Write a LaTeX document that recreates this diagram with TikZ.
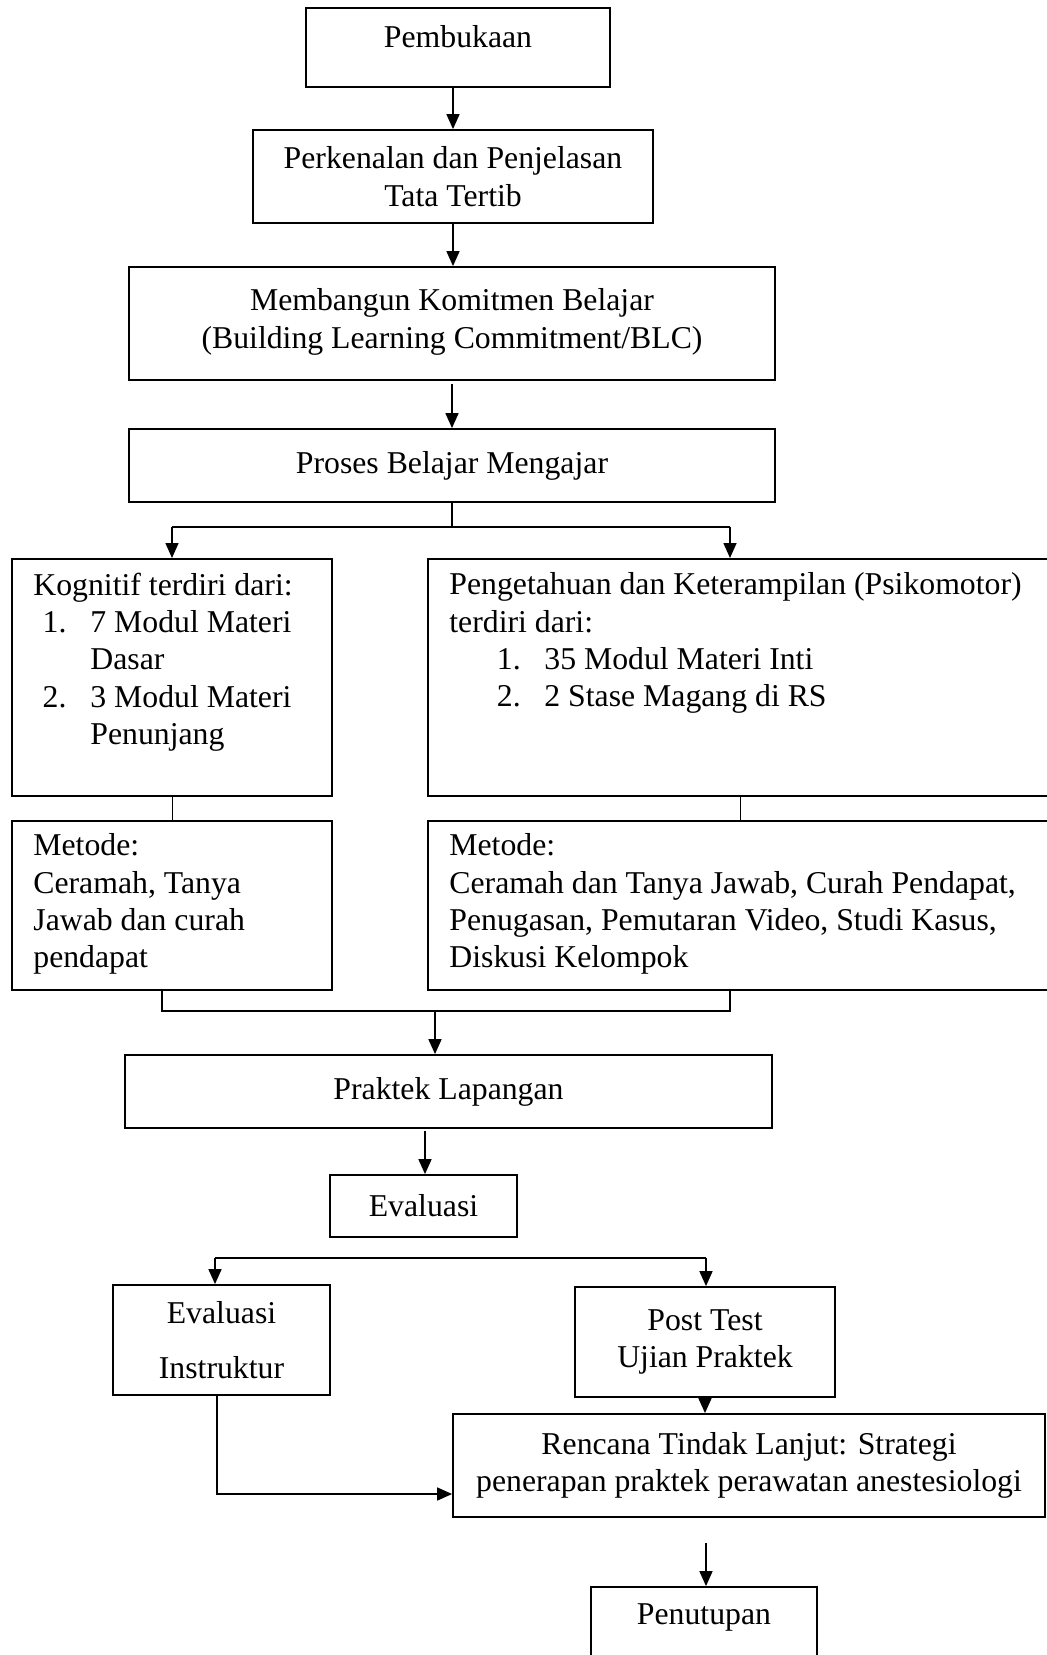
\documentclass[tikz,border=0pt]{standalone}
\usepackage{fontspec}
\setmainfont{Liberation Serif}
\usetikzlibrary{arrows.meta}
\newcommand{\fsz}{\fontsize{31.75}{37.3}\selectfont}
\tikzset{
  box/.style={draw, line width=1.8pt, align=center},
  lbox/.style={draw, line width=1.8pt, anchor=north west, inner xsep=21.5pt},
  arr/.style={-{Triangle[length=15pt,width=13pt]}, line width=1.6pt},
  lin/.style={line width=1.6pt}
}
\begin{document}
\begin{tikzpicture}[x=1pt, y=-1pt, font=\fsz]
          \clip (0,0) rectangle (1047,1655);

          \node[box, minimum width=304pt, minimum height=79pt, text depth=22pt] (open) at (458,47.5) {Pembukaan};
          \node[box, minimum width=400pt, minimum height=93pt] (intro) at (453,176.5) {Perkenalan dan Penjelasan\\Tata Tertib};
          \node[box, minimum width=646pt, minimum height=113pt] (blc) at (452,323.5) {Membangun Komitmen Belajar\\(Building Learning Commitment/BLC)\\[-27pt]\mbox{}};
          \node[box, minimum width=646pt, minimum height=73pt] (pbm) at (452,465.5) {Proses Belajar Mengajar};

          \node[lbox, inner ysep=14pt] (kog) at (11,558) {\begin{minipage}[t][209pt][t]{277pt}
            Kognitif terdiri dari:\\
            \hspace*{9.3pt}\makebox[47.7pt][l]{1.}7 Modul Materi\\
            \hspace*{57pt}Dasar\\
            \hspace*{9.3pt}\makebox[47.7pt][l]{2.}3 Modul Materi\\
            \hspace*{57pt}Penunjang
          \end{minipage}};
          \node[lbox, inner ysep=14pt] (psi) at (427,558) {\begin{minipage}[t][209pt][t]{590pt}
            Pengetahuan dan Keterampilan (Psikomotor)\\
            terdiri dari:\\
            \hspace*{47.5pt}\makebox[47.5pt][l]{1.}35 Modul Materi Inti\\
            \hspace*{47.5pt}\makebox[47.5pt][l]{2.}2 Stase Magang di RS
          \end{minipage}};

          \node[lbox, inner ysep=13pt] (metL) at (11,820) {\begin{minipage}[t][143pt][t]{277pt}
            Metode:\\
            Ceramah, Tanya\\
            Jawab dan curah\\
            pendapat
          \end{minipage}};
          \node[lbox, inner ysep=13pt] (metR) at (427,820) {\begin{minipage}[t][143pt][t]{590pt}
            Metode:\\
            Ceramah dan Tanya Jawab, Curah Pendapat,\\
            Penugasan, Pemutaran Video, Studi Kasus,\\
            Diskusi Kelompok
          \end{minipage}};

          \node[box, minimum width=647pt, minimum height=73pt] (prak) at (448.5,1091.5) {Praktek Lapangan};
          \node[box, minimum width=187pt, minimum height=62pt] (eval) at (423.5,1206) {Evaluasi};
          \node[box, minimum width=217pt, minimum height=110pt] (evi) at (221.5,1340) {Evaluasi\\[17.7pt]Instruktur};
          \node[box, minimum width=260pt, minimum height=110pt] (post) at (705,1342) {Post Test\\Ujian Praktek};
          \node[box, minimum width=592pt, minimum height=103pt] (rtl) at (749,1465.5) {Rencana Tindak Lanjut: Strategi\\penerapan praktek perawatan anestesiologi};
          \node[box, minimum width=226pt, minimum height=120pt, text depth=65pt] (close) at (704,1647) {Penutupan};

          % joints
          \coordinate (sj) at (172,527);
          \coordinate (sjr) at (730,527);
          \coordinate (pm) at (740,800);
          \coordinate (mjl) at (162,1011);
          \coordinate (mjr) at (730,1011);
          \coordinate (mj) at (435,1011);
          \coordinate (pe) at (425,1131);
          \coordinate (ejl) at (215,1258);
          \coordinate (ejr) at (706,1258);
          \coordinate (ec) at (217,1494);
          \coordinate (rc) at (706,1543);

          \draw[arr] (intro.north |- open.south) -- (intro.north);
          \draw[arr] (intro.south) -- (intro.south |- blc.north);
          \draw[arr] ([yshift=-3pt]blc.south) -- (pbm.north);

          \draw[lin] (pbm.south) -- (pbm.south |- sj);
          \draw[lin] (sj) -- (sjr);
          \draw[arr] (sj) -- (sj |- kog.north);
          \draw[arr] (sjr) -- (sjr |- psi.north);

          \draw[line width=1pt] (sj |- kog.south) -- (sj |- metL.north);
          \draw[line width=1pt] (pm |- psi.south) -- (pm |- metR.north);

          \draw[lin] (mjl |- metL.south) -- (mjl) -- (mjr) -- (mjr |- metR.south);
          \draw[arr] (mj) -- (mj |- prak.north);
          \draw[arr] (pe) -- (pe |- eval.north);

          \draw[lin] (ejl) -- (ejr);
          \draw[arr] (ejl) -- (ejl |- evi.north);
          \draw[arr] (ejr) -- (ejr |- post.north);

          \draw[arr] (post.south) -- (post.south |- rtl.north);
          \draw[arr] (ec |- evi.south) -- (ec) -- (ec -| rtl.west);
          \draw[arr] (rc) -- (rc |- close.north);
        \end{tikzpicture}
\end{document}
